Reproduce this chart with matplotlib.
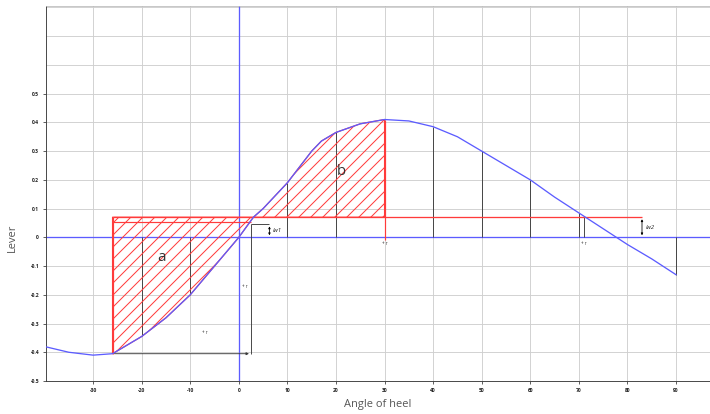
import matplotlib
matplotlib.use('Agg')
import matplotlib.pyplot as plt
import numpy as np

plt.rcParams['font.family'] = ['Open Sans', 'DejaVu Sans']
plt.rcParams['hatch.linewidth'] = 1.0

# GZ curve (angle of heel in degrees, lever in m)
angles = np.array([-40, -35, -30, -26, -20, -15, -10, -5, 0, 3, 5, 10, 15, 17, 20,
                   25, 30, 35, 40, 45, 50, 55, 60, 65, 70, 75, 80, 85, 90])
lever = np.array([-0.38, -0.40, -0.41, -0.405, -0.345, -0.28, -0.20, -0.10, 0.0, 0.07,
                  0.10, 0.19, 0.30, 0.335, 0.365, 0.395, 0.41, 0.405, 0.385, 0.35,
                  0.30, 0.25, 0.20, 0.14, 0.085, 0.03, -0.025, -0.075, -0.13])

# wind heeling lever and angles marking the areas
lw_level = 0.07
lw1_level = 0.045
roll_angle = -26
cross1 = 3
area_b_end = 30
cross2 = 71
lw1_x = 6.3
lw2_x = 83
ordinates = [-20, -10, 10, 20, 40, 50, 60, 70, 90]

x_ticks = [-30, -20, -10, 0, 10, 20, 30, 40, 50, 60, 70, 80, 90]
y_ticks = [-0.5, -0.4, -0.3, -0.2, -0.1, 0, 0.1, 0.2, 0.3, 0.4, 0.5]
y_tick_labels = ['-0.5', '-0.4', '-0.3', '-0.2', '-0.1', '0', '0.1', '0.2', '0.3', '0.4', '0.5']
y_extra_grid = [0.6, 0.7, 0.8]

blue = '#5c5cff'
red = '#ff3b3b'
dark = '#3a3a3a'

fig = plt.figure(figsize=(710 / 72, 414 / 72), dpi=72)
ax = fig.add_axes([46 / 710, 1 - 381 / 414, 664 / 710, 375 / 414])

# hatched areas a and b
in_a = (angles >= roll_angle) & (angles <= cross1)
in_b = (angles >= cross1) & (angles <= area_b_end)
ax.fill_between(angles, lever, lw_level, where=in_a, facecolor='none',
                edgecolor=red, hatch='//', linewidth=1.2, zorder=3)
ax.fill_between(angles, lever, lw_level, where=in_b, facecolor='none',
                edgecolor=red, hatch='//', linewidth=1.2, zorder=3)
ax.vlines(roll_angle, lever[angles == roll_angle][0], lw_level, color=red, lw=1.2, zorder=3)
ax.vlines(area_b_end, -0.01, lever[angles == area_b_end][0], color=red, lw=1.2, zorder=3)

# heeling lever line
ax.hlines(lw_level, roll_angle, lw2_x, color=red, lw=1.3, zorder=3)
ax.hlines(0.052, roll_angle, 2.5, color=red, lw=1.2, zorder=3)

# axes lines through zero
ax.axhline(0, color=blue, lw=1.3, zorder=2)
ax.axvline(0, color=blue, lw=1.3, zorder=2)

# ordinates
for a in ordinates:
    ax.vlines(a, 0, lever[angles == a][0], color=dark, lw=0.9, zorder=2)
ax.vlines(cross2, 0, lw_level, color=dark, lw=0.9, zorder=2)

# GZ curve
ax.plot(angles, lever, color=blue, lw=1.3, zorder=4)

# lw1 marker
ax.hlines(lw1_level, 2.5, lw1_x, color=dark, lw=0.9, zorder=4)
ax.vlines(2.5, -0.405, lw1_level, color=dark, lw=0.9, zorder=4)
ax.annotate('', xy=(2.5, -0.405), xytext=(roll_angle, -0.405),
            arrowprops=dict(arrowstyle='-|>', color=dark, lw=0.9, mutation_scale=5), zorder=4)
ax.annotate('', xy=(lw1_x, 0), xytext=(lw1_x, lw1_level),
            arrowprops=dict(arrowstyle='<|-|>', color='black', lw=0.8, mutation_scale=4), zorder=5)
ax.text(lw1_x + 0.6, lw1_level / 2, 'lw1', fontsize=6, style='italic', va='center', color='#222222')

# lw2 marker
ax.annotate('', xy=(lw2_x, 0), xytext=(lw2_x, lw_level),
            arrowprops=dict(arrowstyle='<|-|>', color='black', lw=0.8, mutation_scale=4), zorder=5)
ax.text(lw2_x + 0.8, lw_level / 2, 'lw2', fontsize=6, style='italic', va='center', color='#222222')

# area labels
ax.text(-16, -0.07, 'a', fontsize=15, ha='center', va='center', color='#333333')
ax.text(21, 0.23, 'b', fontsize=15, ha='center', va='center', color='#333333')

# tiny leftover marks
for mx, my in [(-7, -0.33), (1.2, -0.17), (30, -0.02), (71, -0.02)]:
    ax.text(mx, my, '+ r', fontsize=4.5, ha='center', va='center', color='#333333')

ax.set_xlim(-39.7, 97)
ax.set_ylim(-0.5, 0.805)
ax.set_xticks(x_ticks)
ax.set_xticklabels([str(t) for t in x_ticks])
ax.set_yticks(y_ticks)
ax.set_yticklabels(y_tick_labels)
ax.set_yticks(y_extra_grid, minor=True)
ax.tick_params(axis='both', which='major', labelsize=5, length=3, width=0.8,
               color=dark, labelcolor='#222222', pad=4)
for lab in ax.get_xticklabels() + ax.get_yticklabels():
    lab.set_fontweight('bold')
ax.tick_params(axis='y', which='minor', length=0)
ax.grid(True, which='both', color='#cfcfcf', lw=0.9, zorder=0)
ax.set_axisbelow(True)

for side in ['left', 'bottom']:
    ax.spines[side].set_color(dark)
    ax.spines[side].set_linewidth(0.9)
ax.spines['top'].set_color('#bbbbbb')
ax.spines['right'].set_visible(False)

ax.set_xlabel('Angle of heel', fontsize=11, color='#555555', labelpad=6)
ax.set_ylabel('Lever', fontsize=11, color='#555555')
ax.yaxis.set_label_coords(-0.042, 0.383)

fig.savefig('out.png', dpi=72)
